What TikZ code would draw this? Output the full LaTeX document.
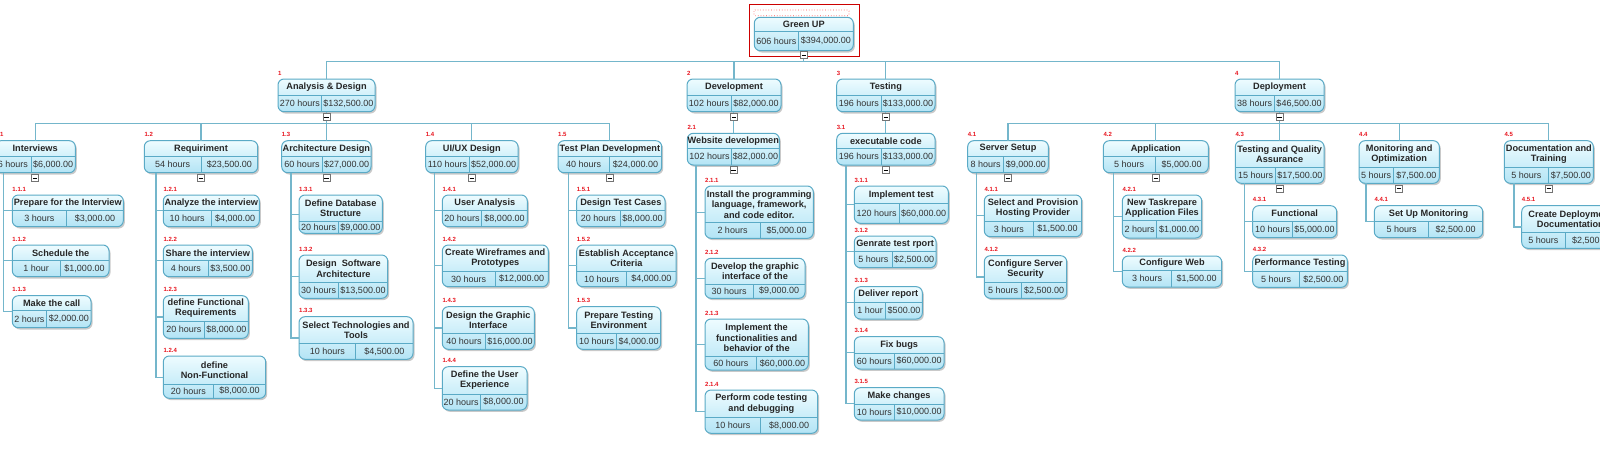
\documentclass[tikz,border=0pt]{standalone}
\usepackage{fontspec}
\setmainfont{Liberation Sans}
\usetikzlibrary{shadows,calc}
\definecolor{bdr}{HTML}{5AAAC6}
\definecolor{ftop}{HTML}{EEFCFF}
\definecolor{fbot}{HTML}{B3E4F5}
\definecolor{cn}{HTML}{74B6CB}
\definecolor{lblred}{HTML}{E8141E}
\tikzset{
 wbox/.style={draw=bdr, line width=1pt, rounded corners=6pt, top color=ftop, bottom color=fbot,
   inner sep=0pt, outer sep=0pt, drop shadow={shadow xshift=1.5pt, shadow yshift=-1.8pt, opacity=.35, fill=black!60}},
 divl/.style={draw=bdr, line width=.8pt},
 ttl/.style={font=\fontsize{9.2}{10.4}\selectfont\bfseries, text=black!85, align=center, inner sep=0pt},
 val/.style={font=\fontsize{9}{10}\selectfont, text=black!80, inner sep=0pt},
 lbl/.style={font=\fontsize{6}{7}\selectfont\bfseries, text=lblred, inner sep=0pt, anchor=base west},
 conn/.style={draw=cn, line width=1.2pt},
 minusbox/.style={draw=black!55, fill=white, line width=.6pt, minimum size=7pt, inner sep=0pt,
   path picture={\draw[black, line width=.8pt] ([xshift=-2.2pt]path picture bounding box.center) -- ([xshift=2.2pt]path picture bounding box.center);}},
}
% name, x1, y1, x2, y2, ydiv, xdiv, label
\newcommand\wbs[8]{%
 \node[wbox, minimum width={(#4)-(#2)}, minimum height={(#5)-(#3)}] (#1) at ({((#2)+(#4))/2},{((#3)+(#5))/2}) {};
 \draw[divl] (#2,#6) -- (#4,#6);
 \draw[divl] (#7,#6) -- (#7,#5);
 \coordinate (#1-t) at ({((#2)+(#4))/2},{((#3)+(#6))/2});
 \coordinate (#1-h) at ({((#2)+(#7))/2},{((#6)+(#5))/2});
 \coordinate (#1-c) at ({((#7)+(#4))/2},{((#6)+(#5))/2});
 \ifx&#8&\else\node[lbl] (#1-l) at (#2,{(#3)-4}) {#8};\fi
}
\newcommand\wtext[4]{\node[ttl] at (#1-t) {#2}; \node[val] at (#1-h) {#3}; \node[val] at (#1-c) {#4};}
\begin{document}
\begin{tikzpicture}[x=1pt,y=-1pt]
\useasboundingbox (0,0) rectangle (1600,474);
\clip (0,0) rectangle (1600,474);
\fill[white] (0,0) rectangle (1600,474);

% root
\wbs{root}{754.3}{17.3}{853.3}{50.7}{31.7}{798.3}{}
\wtext{root}{Green UP}{606 hours}{\$394,000.00}
\draw[red!80!black, line width=.8pt] (749.3,4) rectangle (859,56.7);
\draw[red!70, dotted, line width=.7pt, rounded corners=1pt] (754,10) rectangle (849,15.7);

% level 1
\wbs{an}{278}{79}{375}{111.7}{95}{321.7}{1}
\wtext{an}{Analysis \& Design}{270 hours}{\$132,500.00}
\wbs{dev}{687}{79}{781}{111.7}{95}{731}{2}
\wtext{dev}{Development}{102 hours}{\$82,000.00}
\wbs{tst}{836.7}{79}{935}{111.7}{95}{881}{3}
\wtext{tst}{Testing}{196 hours}{\$133,000.00}
\wbs{dep}{1235}{79}{1324}{111.7}{95}{1274}{4}
\wtext{dep}{Deployment}{38 hours}{\$46,500.00}

% level 2
\wbs{int}{-5}{140.7}{75.3}{172.7}{156.7}{31}{1.1}
\wtext{int}{Interviews}{6 hours}{\$6,000.00}
\wbs{req}{144.3}{140.7}{257.7}{172.7}{156.7}{201}{1.2}
\wtext{req}{Requiriment}{54 hours}{\$23,500.00}
\wbs{arc}{281.7}{140.7}{371}{172.7}{156.7}{322.3}{1.3}
\wtext{arc}{Architecture Design}{60 hours}{\$27,000.00}
\wbs{uix}{425.7}{140.7}{518}{172.7}{156.7}{469.3}{1.4}
\wtext{uix}{UI/UX Design}{110 hours}{\$52,000.00}
\wbs{tpd}{558}{140.7}{661.7}{172.7}{156.7}{609.3}{1.5}
\wtext{tpd}{Test Plan Development}{40 hours}{\$24,000.00}
\wbs{web}{687.3}{133.3}{779.3}{165}{148.3}{731.7}{2.1}
\wtext{web}{Website developmen}{102 hours}{\$82,000.00}
\wbs{exe}{836.7}{133.3}{935}{165}{148.3}{881}{3.1}
\wtext{exe}{executable code}{196 hours}{\$133,000.00}
\wbs{srv}{967.7}{140.7}{1048.3}{172.7}{156.7}{1003.3}{4.1}
\wtext{srv}{Server Setup}{8 hours}{\$9,000.00}
\wbs{app}{1103.3}{140.7}{1208.3}{172.7}{156.7}{1155}{4.2}
\wtext{app}{Application}{5 hours}{\$5,000.00}
\wbs{tqa}{1235.3}{140.7}{1324}{183.3}{167.7}{1275.7}{4.3}
\wtext{tqa}{Testing and Quality\\Assurance}{15 hours}{\$17,500.00}
\wbs{mon}{1359}{140.7}{1439.3}{183.3}{167.7}{1393.3}{4.4}
\wtext{mon}{Monitoring and\\Optimization}{5 hours}{\$7,500.00}
\wbs{doc}{1504.3}{140.7}{1593.3}{183.3}{167.7}{1548.3}{4.5}
\wtext{doc}{Documentation and\\Training}{5 hours}{\$7,500.00}

% level 3
\wbs{a111}{12.3}{195}{123.3}{226.7}{210.7}{66.7}{1.1.1}
\wtext{a111}{Prepare for the Interview}{3 hours}{\$3,000.00}
\wbs{a112}{12.3}{245}{109}{276.7}{260.7}{60}{1.1.2}
\wtext{a112}{Schedule the}{1 hour}{\$1,000.00}
\wbs{a113}{12.3}{295.7}{91}{327.7}{310.7}{46.7}{1.1.3}
\wtext{a113}{Make the call}{2 hours}{\$2,000.00}

\wbs{a121}{163.3}{195}{259.3}{226.7}{210.7}{211}{1.2.1}
\wtext{a121}{Analyze the interview}{10 hours}{\$4,000.00}
\wbs{a122}{163.3}{245}{252.3}{276.7}{260.7}{208.3}{1.2.2}
\wtext{a122}{Share the interview}{4 hours}{\$3,500.00}
\wbs{a123}{163.3}{295.7}{248.3}{338.3}{321}{204.3}{1.2.3}
\wtext{a123}{define Functional\\Requirements}{20 hours}{\$8,000.00}
\wbs{a124}{163.3}{356}{265.7}{398.3}{384}{213.3}{1.2.4}
\wtext{a124}{define\\Non-Functional}{20 hours}{\$8,000.00}

\wbs{a131}{299}{195}{382.3}{233.3}{221.7}{338.3}{1.3.1}
\wtext{a131}{Define Database\\Structure}{20 hours}{\$9,000.00}
\wbs{a132}{299}{255}{387.7}{298.3}{282.7}{338.3}{1.3.2}
\wtext{a132}{Design \ Software\\Architecture}{30 hours}{\$13,500.00}
\wbs{a133}{299}{316.7}{413}{359.3}{343.3}{355.7}{1.3.3}
\wtext{a133}{Select Technologies and\\Tools}{10 hours}{\$4,500.00}

\wbs{a141}{442.3}{195}{527.3}{226.7}{210.7}{481.7}{1.4.1}
\wtext{a141}{User Analysis}{20 hours}{\$8,000.00}
\wbs{a142}{442.3}{245}{548.3}{286.7}{271.7}{495}{1.4.2}
\wtext{a142}{Create Wireframes and\\Prototypes}{30 hours}{\$12,000.00}
\wbs{a143}{442.3}{306.7}{534.3}{349.3}{333.3}{485.7}{1.4.3}
\wtext{a143}{Design the Graphic\\Interface}{40 hours}{\$16,000.00}
\wbs{a144}{442.3}{366.7}{527}{410}{394}{480}{1.4.4}
\wtext{a144}{Define the User\\Experience}{20 hours}{\$8,000.00}

\wbs{a151}{576.7}{195}{665}{226.7}{210.7}{620}{1.5.1}
\wtext{a151}{Design Test Cases}{20 hours}{\$8,000.00}
\wbs{a152}{576.7}{245}{676}{286.7}{271.7}{626.7}{1.5.2}
\wtext{a152}{Establish Acceptance\\Criteria}{10 hours}{\$4,000.00}
\wbs{a153}{576.7}{306.7}{660.7}{349.3}{333.3}{616.7}{1.5.3}
\wtext{a153}{Prepare Testing\\Environment}{10 hours}{\$4,000.00}

\wbs{b211}{705}{186}{813.3}{238.3}{222.7}{760}{2.1.1}
\wtext{b211}{Install the programming\\language, framework,\\and code editor.}{2 hours}{\$5,000.00}
\wbs{b212}{705}{258.3}{805}{298.3}{284}{753.3}{2.1.2}
\wtext{b212}{Develop the graphic\\interface of the}{30 hours}{\$9,000.00}
\wbs{b213}{705}{319}{808.3}{370}{356.7}{756.7}{2.1.3}
\wtext{b213}{Implement the\\functionalities and\\behavior of the}{60 hours}{\$60,000.00}
\wbs{b214}{705}{390}{817.7}{433.3}{417.3}{760.7}{2.1.4}
\wtext{b214}{Perform code testing\\and debugging}{10 hours}{\$8,000.00}

\wbs{c311}{854.3}{186}{948.3}{223.3}{203.3}{899}{3.1.1}
\wtext{c311}{Implement test}{120 hours}{\$60,000.00}
\wbs{c312}{854.3}{236}{936}{267.7}{251.7}{892.3}{3.1.2}
\wtext{c312}{Genrate test rport}{5 hours}{\$2,500.00}
\wbs{c313}{854.3}{286.7}{922.3}{319}{302.3}{885.7}{3.1.3}
\wtext{c313}{Deliver report}{1 hour}{\$500.00}
\wbs{c314}{854.3}{336.7}{944}{369}{353.3}{894.3}{3.1.4}
\wtext{c314}{Fix bugs}{60 hours}{\$60,000.00}
\wbs{c315}{854.3}{387.7}{944}{420}{404}{894.3}{3.1.5}
\wtext{c315}{Make changes}{10 hours}{\$10,000.00}

\wbs{d411}{984.3}{195}{1081.7}{236.7}{221.7}{1033.3}{4.1.1}
\wtext{d411}{Select and Provision\\Hosting Provider}{3 hours}{\$1,500.00}
\wbs{d412}{984.3}{255.7}{1066.7}{298.3}{282.3}{1021.7}{4.1.2}
\wtext{d412}{Configure Server\\Security}{5 hours}{\$2,500.00}
\wbs{d421}{1122.3}{195}{1201.7}{238}{220.7}{1156.7}{4.2.1}
\wtext{d421}{New Taskrepare\\Application Files}{2 hours}{\$1,000.00}
\wbs{d422}{1122.3}{256}{1221.7}{287}{270.3}{1171.7}{4.2.2}
\wtext{d422}{Configure Web}{3 hours}{\$1,500.00}
\wbs{d431}{1252.7}{205.7}{1336.7}{237.7}{221.7}{1292.3}{4.3.1}
\wtext{d431}{Functional}{10 hours}{\$5,000.00}
\wbs{d432}{1252.7}{255}{1347.3}{287.3}{271.7}{1299.3}{4.3.2}
\wtext{d432}{Performance Testing}{5 hours}{\$2,500.00}
\wbs{d441}{1374.3}{205.7}{1482.7}{237.7}{221.7}{1428.7}{4.4.1}
\wtext{d441}{Set Up Monitoring}{5 hours}{\$2,500.00}
\wbs{d451}{1521.7}{205.7}{1619}{248.3}{232.3}{1565}{4.5.1}
\wtext{d451}{Create Deployment\\Documentation}{5 hours}{\$2,500.00}

% connectors: root -> level 1
\coordinate (bus0) at (0,61.5);
\draw[conn] (root.south) -- (root.south |- bus0);
\draw[conn] (an.north) |- (bus0 -| dep.north) -- (dep.north);
\draw[conn] (dev.north) -- (dev.north |- bus0);
\draw[conn] (tst.north) -- (tst.north |- bus0);

% level 1 -> level 2
\coordinate (bus1) at (0,123.3);
\draw[conn] (an.south) -- (an.south |- bus1);
\draw[conn] (int.north) |- (bus1 -| tpd.north) -- (tpd.north);
\draw[conn] (req.north) -- (req.north |- bus1);
\draw[conn] (arc.north) -- (arc.north |- bus1);
\draw[conn] (uix.north) -- (uix.north |- bus1);
\draw[conn] (web.north) -- (web.north |- dev.south);
\draw[conn] (exe.north) -- (exe.north |- tst.south);
\draw[conn] (dep.south) -- (dep.south |- bus1);
\draw[conn] (srv.north) |- (bus1 -| doc.north) -- (doc.north);
\draw[conn] (app.north) -- (app.north |- bus1);
\draw[conn] (tqa.north) -- (tqa.north |- bus1);
\draw[conn] (mon.north) -- (mon.north |- bus1);

% level 2 -> level 3 spines
\coordinate (intS) at ([xshift=8.3pt]int.south west);
\draw[conn] (intS) |- (a113.west);
\draw[conn] (a111.west) -- (a111.west -| intS);
\draw[conn] (a112.west) -- (a112.west -| intS);

\coordinate (reqS) at ([xshift=11.7pt]req.south west);
\draw[conn] (reqS) |- (a124.west);
\foreach \c in {a121,a122,a123} \draw[conn] (\c.west) -- (\c.west -| reqS);

\coordinate (arcS) at ([xshift=9.3pt]arc.south west);
\draw[conn] (arcS) |- (a133.west);
\foreach \c in {a131,a132} \draw[conn] (\c.west) -- (\c.west -| arcS);

\coordinate (uixS) at ([xshift=8.6pt]uix.south west);
\draw[conn] (uixS) |- (a144.west);
\foreach \c in {a141,a142,a143} \draw[conn] (\c.west) -- (\c.west -| uixS);

\coordinate (tpdS) at ([xshift=10.3pt]tpd.south west);
\draw[conn] (tpdS) |- (a153.west);
\foreach \c in {a151,a152} \draw[conn] (\c.west) -- (\c.west -| tpdS);

\coordinate (webS) at ([xshift=8.7pt]web.south west);
\draw[conn] (webS) |- (b214.west);
\foreach \c in {b211,b212,b213} \draw[conn] (\c.west) -- (\c.west -| webS);

\coordinate (exeS) at ([xshift=9.3pt]exe.south west);
\draw[conn] (exeS) |- (c315.west);
\foreach \c in {c311,c312,c313,c314} \draw[conn] (\c.west) -- (\c.west -| exeS);

\coordinate (srvS) at ([xshift=9pt]srv.south west);
\draw[conn] (srvS) |- (d412.west);
\draw[conn] (d411.west) -- (d411.west -| srvS);

\coordinate (appS) at ([xshift=10pt]app.south west);
\draw[conn] (appS) |- (d422.west);
\draw[conn] (d421.west) -- (d421.west -| appS);

\coordinate (tqaS) at ([xshift=9pt]tqa.south west);
\draw[conn] (tqaS) |- (d432.west);
\draw[conn] (d431.west) -- (d431.west -| tqaS);

\coordinate (monS) at ([xshift=7pt]mon.south west);
\draw[conn] (monS) |- (d441.west);

\coordinate (docS) at ([xshift=9.7pt]doc.south west);
\draw[conn] (docS) |- (d451.west);

% collapse boxes
\node[minusbox] (root-m) at ([yshift=-4.3pt]root.south) {};
\foreach \n in {an,dev,tst,dep,int,req,arc,uix,tpd,srv,app,tqa,mon,doc}
  \node[minusbox] (\n-m) at ([yshift=-5.4pt]\n.south) {};
\foreach \n in {web,exe}
  \node[minusbox] (\n-m) at ([yshift=-5pt]\n.south) {};
\end{tikzpicture}
\end{document}
